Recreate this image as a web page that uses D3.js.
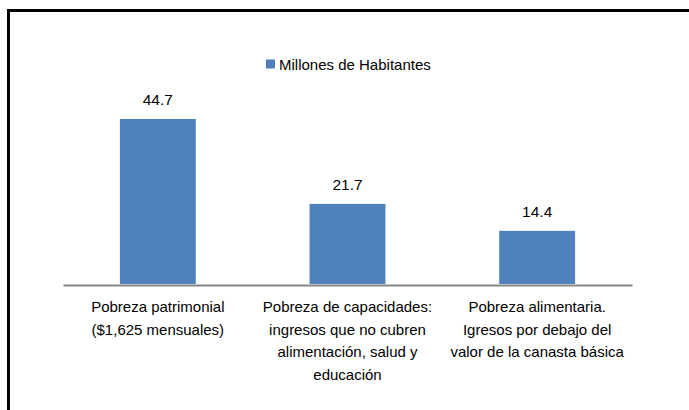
<!DOCTYPE html>
<html>
<head>
<meta charset="utf-8">
<script src="https://cdn.jsdelivr.net/npm/d3@7"></script>
<style>
  html, body { margin: 0; padding: 0; background: #fff; }
  svg { display: block; }
  text { font-family: "Liberation Sans", Arial, sans-serif; fill: #000; }
</style>
</head>
<body>
<script>
const categories = [
  ["Pobreza patrimonial", "($1,625 mensuales)"],
  ["Pobreza de capacidades:", "ingresos que no cubren", "alimentación, salud y", "educación"],
  ["Pobreza alimentaria.", "Igresos por debajo del", "valor de la canasta básica"]
];
const seriesName = "Millones de Habitantes";
const values = [44.7, 21.7, 14.4];
const valueLabels = ["44.7", "21.7", "14.4"];
const yDomain = [0, 50];

const W = 689, H = 410;
const svg = d3.select("body").append("svg").attr("width", W).attr("height", H);
svg.append("rect").attr("width", W).attr("height", H).attr("fill", "#fff");

// outer frame (extends past right/bottom edges)
svg.append("rect")
  .attr("x", 8.5).attr("y", 10.5)
  .attr("width", W + 20).attr("height", H + 20)
  .attr("fill", "none").attr("stroke", "#000").attr("stroke-width", 3);

const x = d3.scaleBand()
  .domain(d3.range(categories.length))
  .range([63, 632])
  .paddingInner(0.6)
  .paddingOuter(0.3);

const y = d3.scaleLinear().domain(yDomain).range([284, 99.4]);

svg.append("g").selectAll("rect").data(values).join("rect")
  .attr("x", (d, i) => x(i))
  .attr("y", d => y(d))
  .attr("width", x.bandwidth())
  .attr("height", d => y(0) - y(d))
  .attr("fill", "#4F81BD");

// axis baseline
const xAxis = d3.axisBottom(x).tickSize(0).tickFormat("");
const ax = svg.append("g").attr("transform", `translate(0,${y(0) + 1})`).call(xAxis);
ax.select(".domain").attr("stroke", "#868686").attr("stroke-width", 2);

// data labels
svg.append("g").selectAll("text").data(values).join("text")
  .attr("x", (d, i) => x(i) + x.bandwidth() / 2)
  .attr("y", d => y(d) - 13.5)
  .attr("text-anchor", "middle")
  .attr("font-size", 15.5)
  .text((d, i) => valueLabels[i]);

// category labels
const catG = svg.append("g");
categories.forEach((lines, i) => {
  const t = catG.append("text")
    .attr("text-anchor", "middle")
    .attr("font-size", 15)
    .attr("x", x(i) + x.bandwidth() / 2)
    .attr("y", 312);
  lines.forEach((ln, j) => {
    t.append("tspan")
      .attr("x", x(i) + x.bandwidth() / 2)
      .attr("y", 312 + j * 22.5)
      .text(ln);
  });
});

// legend
const lg = svg.append("g");
lg.append("rect").attr("x", 266).attr("y", 59.5).attr("width", 9).attr("height", 9).attr("fill", "#4F81BD");
lg.append("text").attr("x", 279).attr("y", 69.5).attr("font-size", 15).text(seriesName);
</script>
</body>
</html>
